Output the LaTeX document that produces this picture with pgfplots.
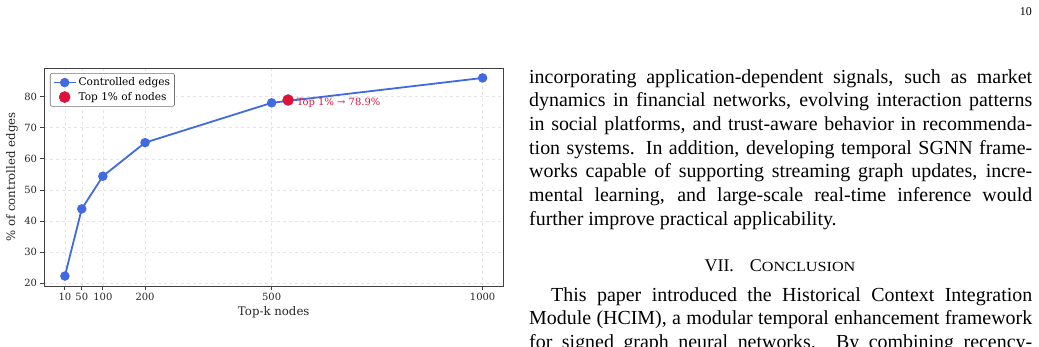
\documentclass[border=0pt]{standalone}
\usepackage{fontspec}
\setmainfont{DejaVu Serif}
\newfontfamily\tnr{Liberation Serif}
\usepackage{graphicx}
\usepackage{pgfplots}
\pgfplotsset{compat=1.18}
\definecolor{lineblue}{HTML}{4169E1}
\definecolor{crim}{HTML}{DC143C}
\newcommand\jl[2]{\node[anchor=base west, inner sep=0pt] at (529,#1) {\tnr\fontsize{20}{24}\selectfont\makebox[503bp][s]{#2}};}
\newcommand\plainline[3]{\node[anchor=base west, inner sep=0pt] at (#1,#2) {\tnr\fontsize{20}{24}\selectfont #3};}
\begin{document}
\begin{tikzpicture}[x=1bp,y=1bp]
\useasboundingbox (0,0) rectangle (1039,346);
\begin{axis}[
  at={(44bp,60bp)}, anchor=south west,
  scale only axis, width=459.5bp, height=218bp,
  xmin=-39.5, xmax=1049.5, ymin=19.1, ymax=89.2,
  xtick={10,50,100,200,500,1000},
  xticklabels={10,50,100,200,500,1000},
  ytick={20,30,40,50,60,70,80},
  tick align=outside, tick pos=left,
  major tick length=3.5bp,
  grid=major, grid style={gray!20, dashed, line width=0.5bp},
  axis line style={black!75, line width=0.8bp},
  every tick/.style={black!75, line width=0.8bp},
  tick label style={font=\fontsize{10}{11}\selectfont, text=black!85},
  /pgf/number format/assume math mode=true,
  xlabel={Top-k nodes}, ylabel={\% of controlled edges},
  label style={font=\fontsize{11.8}{13}\selectfont, text=black!85},
  xlabel style={at={(axis description cs:0.5,-0.119)}, anchor=center},
  ylabel style={at={(axis description cs:-0.0696,0.5)}, anchor=center},
  legend style={at={(0.013,0.977)}, anchor=north west,
    font=\fontsize{10.6}{12}\selectfont, draw=black!55, rounded corners=2bp,
    line width=0.6bp, inner sep=2.5bp, row sep=1bp},
  legend cell align=left,
]
\addplot[lineblue, line width=1.8bp, mark=*, mark size=3.8bp, mark options={fill=lineblue, draw=lineblue},
  legend image code/.code={\draw[mark repeat=2,mark phase=2] plot coordinates {(0bp,0bp) (11bp,0bp) (22bp,0bp)};}]
  coordinates {(10,22.3)(50,43.9)(100,54.4)(200,65.2)(500,78.0)(1000,86.0)};
\addlegendentry{Controlled edges}
\addplot[only marks, mark=*, mark size=5.5bp, crim, mark options={draw=crim, fill=crim},
  legend image code/.code={\draw[draw opacity=0] (0bp,0bp) -- (22bp,0bp); \path plot coordinates {(11bp,0bp)};}]
  coordinates {(539,78.9)};
\addlegendentry{Top 1\% of nodes}
\node[anchor=west, text=crim, font=\fontsize{10}{11}\selectfont, inner sep=0pt, xshift=8.5bp, yshift=-2.5bp] at (axis cs:539,78.9) {Top 1\% → 78.9\%};
\end{axis}
\node[anchor=base east, inner sep=0pt] at (1032,331) {\tnr\fontsize{12}{14}\selectfont 10};
\jl{263}{incorporating application-dependent signals, such as market}
\jl{239.3}{dynamics in financial networks, evolving interaction patterns}
\jl{215.7}{in social platforms, and trust-aware behavior in recommenda-}
\jl{192}{tion systems. In addition, developing temporal SGNN frame-}
\jl{168.3}{works capable of supporting streaming graph updates, incre-}
\jl{144.7}{mental learning, and large-scale real-time inference would}
\plainline{529}{121}{further improve practical applicability.}
\node[anchor=base, inner sep=0pt] at (780,75) {\tnr\fontsize{18}{20}\selectfont VII.\hspace{16bp}C\fontsize{14}{16}\selectfont\scalebox{1.16}[1]{ONCLUSION}};
\node[anchor=base west, inner sep=0pt] at (551,44.5) {\tnr\fontsize{20}{24}\selectfont\makebox[481bp][s]{This paper introduced the Historical Context Integration}};
\jl{21.5}{Module (HCIM), a modular temporal enhancement framework}
\jl{-2}{for signed graph neural networks. By combining recency-}
\end{tikzpicture}
\end{document}
